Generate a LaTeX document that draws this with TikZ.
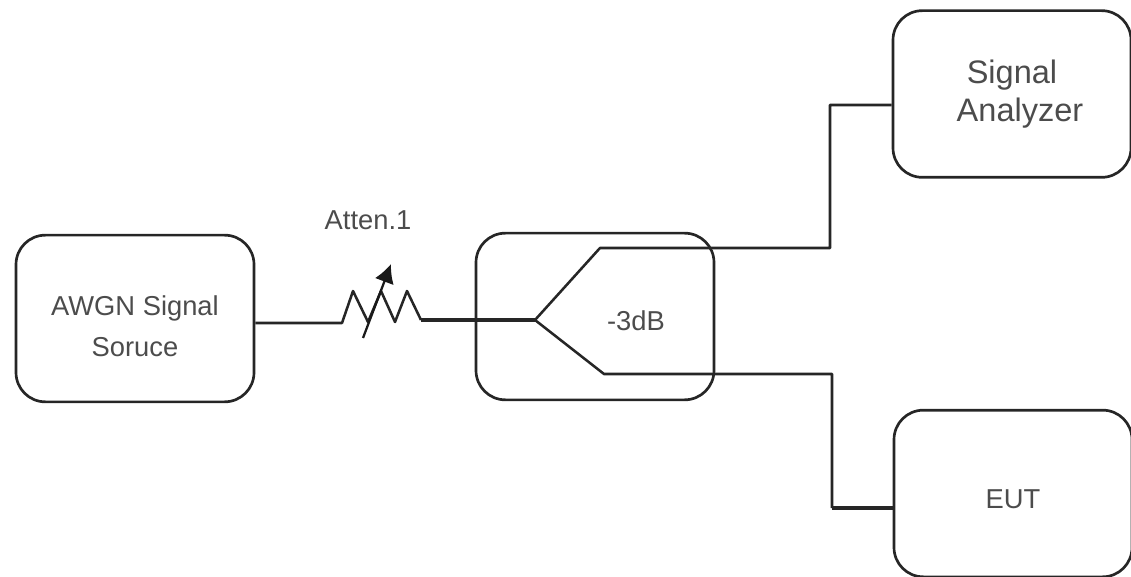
\documentclass[tikz,border=0pt]{standalone}
\usepackage{fontspec}
\setmainfont{Liberation Sans}
\usepackage{tikz}
\usetikzlibrary{positioning,arrows.meta,calc}
\tikzset{
  unit/.style={draw=black!85,rounded corners=22pt,line width=2pt,minimum width=178.5pt,minimum height=125pt,
    text=black!70,align=center,inner sep=0pt,font=\fontsize{20.5}{30.8}\selectfont},
  wire/.style={line width=1.9pt,black!85,line join=round},
  heavywire/.style={line width=2.3pt,black!85},
  lbl/.style={text=black!70,inner sep=0pt,font=\fontsize{20.5}{24}\selectfont},
  tapline/.style={-{Latex[length=14pt,width=15pt]},line width=1.7pt,black!90},
}
\begin{document}
\begin{tikzpicture}[x=0.75pt,y=-0.75pt]
  \useasboundingbox (0,0) rectangle (1131,577);
  % blocks
  \node[unit] (src) at (135,318.5) {\rule{0pt}{26pt}AWGN Signal\\Soruce};
  \node[unit] (cpl) at (595,316.5) {};
  \node[unit,font=\fontsize{24.4}{28}\selectfont] (ana) at (1012,94) {Signal\\\hspace*{12pt}Analyzer};
  \node[unit,text height=22pt,text depth=0pt] (eut) at (1013,493.5) {EUT};
  \node[lbl] (att) at (368,220) {Atten.1};
  \node[lbl] (db) at (636,321) {-3dB};
  % variable attenuator
  \coordinate (r0) at (342,323);
  \coordinate (r1) at (421,320);
  \coordinate (tap0) at (363,338);
  \coordinate (tap1) at (391,264);
  \coordinate (fork) at (535,320);
  \draw[wire] (src.east |- r0) -- (r0) -- (353,291) -- (368,322) -- (381,291) -- (395,322) -- (407,291) -- (r1);
  \draw[heavywire] (r1) -- (fork);
  \draw[tapline] (tap0) -- (tap1);
  % splitter arms
  \draw[wire] (fork) -- (600,248) -| (830,105) -- (ana.west |- 0,105);
  \draw[wire] (fork) -- (604,374) -| (832,508);
  \draw[heavywire] (832,508) -- (eut.west |- 0,508);
\end{tikzpicture}
\end{document}
